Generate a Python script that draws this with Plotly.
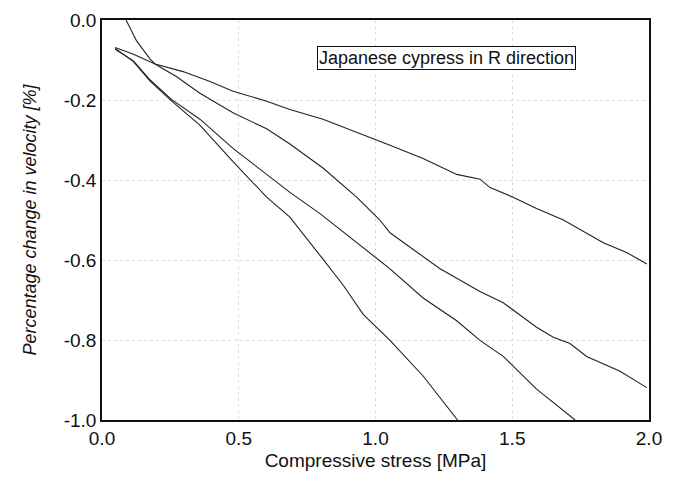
import plotly.graph_objects as go

# Curve A (top, least steep)
a_x = [0.048, 0.113, 0.194, 0.296, 0.395, 0.479, 0.602, 0.687, 0.808, 0.931, 1.053, 1.174, 1.297, 1.382, 1.419, 1.503, 1.589, 1.687, 1.833, 1.918, 1.992]
a_y = [-0.069, -0.085, -0.110, -0.129, -0.154, -0.178, -0.203, -0.224, -0.248, -0.280, -0.313, -0.346, -0.386, -0.398, -0.419, -0.443, -0.471, -0.500, -0.557, -0.581, -0.610]

# Curve D (starts from 0.0)
d_x = [0.088, 0.127, 0.176, 0.194, 0.273, 0.358, 0.479, 0.602, 0.687, 0.808, 0.931, 1.016, 1.053, 1.151, 1.236, 1.382, 1.467, 1.589, 1.650, 1.711, 1.772, 1.894, 1.992]
d_y = [0.0, -0.053, -0.098, -0.110, -0.142, -0.183, -0.232, -0.272, -0.310, -0.370, -0.443, -0.500, -0.532, -0.581, -0.622, -0.679, -0.707, -0.768, -0.793, -0.809, -0.841, -0.878, -0.919]

# Curve B
b_x = [0.048, 0.115, 0.176, 0.255, 0.358, 0.479, 0.602, 0.687, 0.797, 0.931, 1.053, 1.174, 1.297, 1.382, 1.467, 1.589, 1.723, 1.73]
b_y = [-0.073, -0.102, -0.150, -0.199, -0.248, -0.321, -0.386, -0.431, -0.484, -0.557, -0.622, -0.695, -0.752, -0.801, -0.841, -0.923, -0.996, -1.0]

# Curve C (steepest)
c_x = [0.048, 0.115, 0.176, 0.255, 0.358, 0.479, 0.602, 0.687, 0.808, 0.882, 0.955, 1.053, 1.174, 1.297, 1.30]
c_y = [-0.071, -0.104, -0.153, -0.203, -0.263, -0.354, -0.443, -0.493, -0.598, -0.663, -0.736, -0.801, -0.890, -0.996, -1.0]

x_ticks = [0.0, 0.5, 1.0, 1.5, 2.0]
x_labels = ["0.0", "0.5", "1.0", "1.5", "2.0"]
y_ticks = [0.0, -0.2, -0.4, -0.6, -0.8, -1.0]
y_labels = ["0.0", "-0.2", "-0.4", "-0.6", "-0.8", "-1.0"]

fig = go.Figure()
for xs, ys in [(a_x, a_y), (d_x, d_y), (b_x, b_y), (c_x, c_y)]:
    fig.add_trace(go.Scatter(x=xs, y=ys, mode="lines",
                             line=dict(color="#222222", width=1.1),
                             showlegend=False, hoverinfo="skip"))

font = "Liberation Sans, Arial, sans-serif"
fig.update_layout(
    width=676, height=489,
    margin=dict(l=102, r=27, t=10, b=69),
    paper_bgcolor="white", plot_bgcolor="white",
    font=dict(family=font, size=19, color="#111111"),
    showlegend=False,
)
fig.update_xaxes(
    range=[0, 2], tickvals=x_ticks, ticktext=x_labels,
    showline=True, linecolor="#111111", linewidth=1.5, mirror=True,
    showgrid=True, gridcolor="#dddddd", griddash="dot", gridwidth=1,
    ticks="", zeroline=False,
    title=dict(text="Compressive stress [MPa]", font=dict(size=19), standoff=6),
)
fig.update_yaxes(
    range=[-1, 0], tickvals=y_ticks, ticktext=y_labels,
    showline=True, linecolor="#111111", linewidth=1.5, mirror=True,
    showgrid=True, gridcolor="#dddddd", griddash="dot", gridwidth=1,
    ticks="", zeroline=False,
    title=dict(text="<i>Percentage change in velocity [%]</i>", font=dict(size=18), standoff=22),
)
fig.add_annotation(
    x=1.258, y=-0.095, xref="x", yref="y",
    text="Japanese cypress in R direction", showarrow=False,
    font=dict(size=18, color="#111111"),
    bordercolor="#111111", borderwidth=1, borderpad=1, bgcolor="white",
)
fig.write_html("out.html")
